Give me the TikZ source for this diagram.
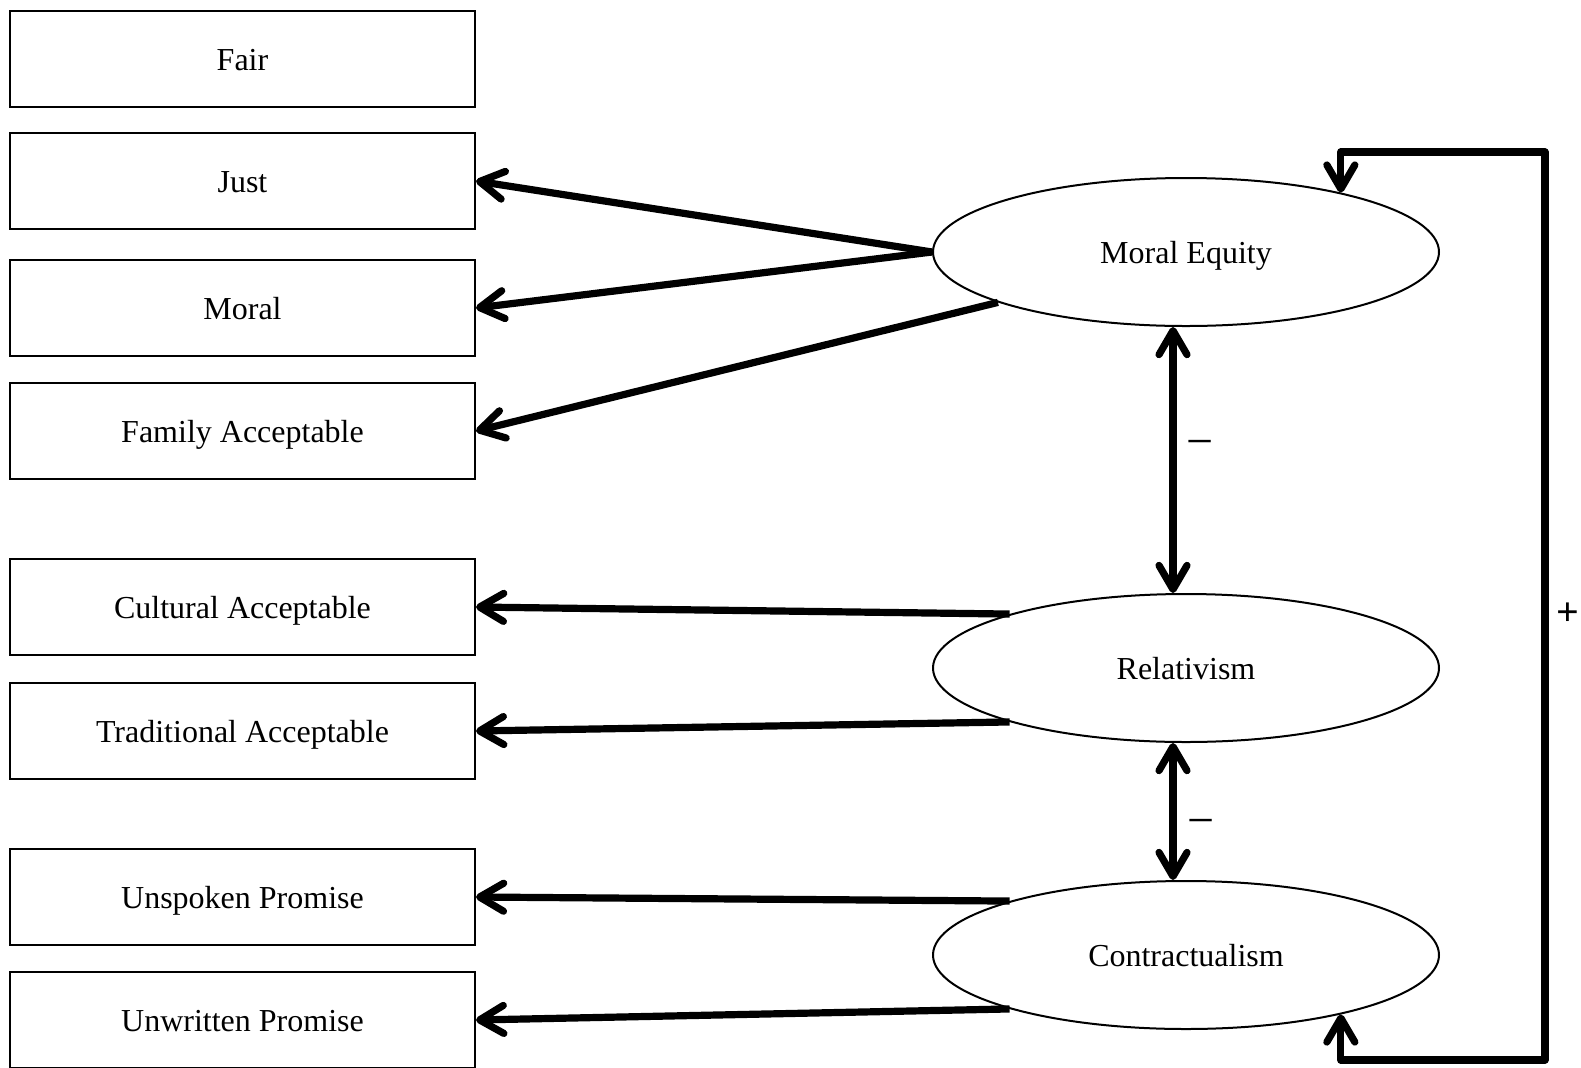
\documentclass[tikz,border=0pt]{standalone}
\usepackage{fontspec}
\setmainfont{Liberation Serif}
\usetikzlibrary{arrows.meta,shapes.geometric}
\begin{document}
\begin{tikzpicture}[x=0.5pt,y=-0.5pt,
  ind/.style={draw, line width=1pt, minimum width=232.5pt, minimum height=48pt,
    inner sep=0pt, text height=11pt, text depth=0pt, font=\fontsize{16}{20}\selectfont},
  lat/.style={draw, ellipse, line width=1pt, minimum width=253pt, minimum height=74pt,
    inner sep=0pt, text height=11pt, text depth=0pt, font=\fontsize{16}{20}\selectfont},
  barb/.tip={Straight Barb[length=12pt,width=14pt,round]},
  load/.style={line width=3.6pt, -barb},
  corr/.style={line width=3.6pt, barb-barb},
  fb/.style={line width=3.6pt, line join=round, barb-barb},
  sign/.style={font=\fontsize{24}{24}\selectfont, inner sep=0pt}
]
\useasboundingbox (0,0) rectangle (1581,1067);
\fill[white] (0,0) rectangle (1581,1067);

% observed indicators
\node[ind] (fair)  at (242.5,59)   {Fair};
\node[ind] (just)  at (242.5,181)  {Just};
\node[ind] (moral) at (242.5,308)  {Moral};
\node[ind] (fam)   at (242.5,431)  {Family Acceptable};
\node[ind] (cult)  at (242.5,607)  {Cultural Acceptable};
\node[ind] (trad)  at (242.5,731)  {Traditional Acceptable};
\node[ind] (unsp)  at (242.5,897)  {Unspoken Promise};
\node[ind] (unwr)  at (242.5,1020) {Unwritten Promise};

% latent factors
\node[lat] (me)  at (1186,252) {Moral Equity};
\node[lat] (rel) at (1186,668) {Relativism};
\node[lat] (ct)  at (1186,955) {Contractualism};

% loadings
\draw[load] (me.west) -- (just.east);
\draw[load] (me.west) -- (moral.east);
\draw[load] (me.195) -- (fam.east);
\draw[load] (rel.163) -- (cult.east);
\draw[load] (rel.197) -- (trad.east);
\draw[load] (ct.163) -- (unsp.east);
\draw[load] (ct.197) -- (unwr.east);

% correlations between factors
\draw[corr] ([xshift=-6.5pt]me.south) -- ([xshift=-6.5pt]rel.north);
\draw[corr] ([xshift=-6.5pt]rel.south) -- ([xshift=-6.5pt]ct.north);
\node[sign] (m1) at (1200,449) {−};
\node[sign] (m2) at (1201,828) {−};

% outer feedback path
\coordinate (fbtop) at (1545,152);
\coordinate (fbbot) at (1545,1060);
\draw[fb] (me.21) |- (fbtop) -- (fbbot) -| (ct.-21);
\node[font=\fontsize{20}{20}\selectfont\bfseries, inner sep=0pt] (plus) at (1568,614) {+};
\end{tikzpicture}
\end{document}
